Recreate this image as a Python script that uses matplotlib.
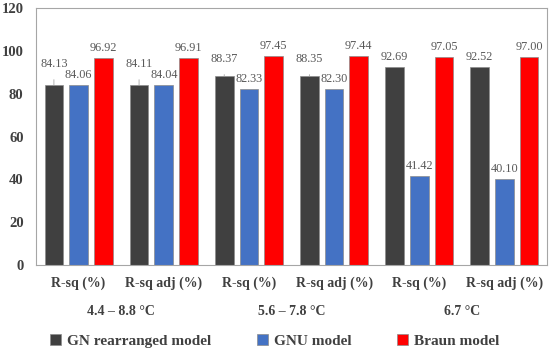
import numpy as np
import matplotlib
matplotlib.use("Agg")
import matplotlib.pyplot as plt

categories = ["R-sq (%)", "R-sq adj (%)", "R-sq (%)", "R-sq adj (%)", "R-sq (%)", "R-sq adj (%)"]
groups = ["4.4 \u2013 8.8 \u00b0C", "5.6 \u2013 7.8 \u00b0C", "6.7 \u00b0C"]
gn_rearranged = [84.13, 84.11, 88.37, 88.35, 92.69, 92.52]
gnu = [84.06, 84.04, 82.33, 82.30, 41.42, 40.10]
braun = [96.92, 96.91, 97.45, 97.44, 97.05, 97.00]
series_names = ["GN rearranged model", "GNU model", "Braun model"]

colors = ["#404040", "#4472C4", "#FF0000"]
serif = ["Liberation Serif", "DejaVu Serif"]

fig = plt.figure(figsize=(5.5, 3.53), dpi=100)
ax = fig.add_axes([0.0655, 0.249, 0.929, 0.728])

x = np.arange(len(categories))
width = 0.22
offsets = [-0.29, 0.0, 0.29]
series = [gn_rearranged, gnu, braun]

bars = []
for vals, off, col, name in zip(series, offsets, colors, series_names):
    b = ax.bar(x + off, vals, width, color=col, edgecolor="#8C8C8C", linewidth=0.5, label=name)
    bars.append(b)

# data labels; black bars in the first four columns sit higher with a leader line
for si, (vals, off) in enumerate(zip(series, offsets)):
    for i, v in enumerate(vals):
        lift = 10
        leader = False
        if si == 0 and i < 4:
            lift = 21 if i < 2 else 17
            leader = True
        ax.annotate(f"{v:.2f}", xy=(x[i] + off, v), xytext=(0, lift),
                    textcoords="offset pixels", ha="center", va="center",
                    fontsize=8.8, color="#595959", family=serif,
                    arrowprops=dict(arrowstyle="-", color="#A6A6A6", lw=0.6,
                                    shrinkA=5, shrinkB=0) if leader else None)

ax.set_xlim(-0.5, len(categories) - 0.5)
ax.set_ylim(0, 120)
ax.set_yticks(np.arange(0, 121, 20))
ax.set_xticks(x)
ax.set_xticklabels(categories, fontsize=10, fontweight="bold", family=serif, color="#404040")
ax.tick_params(axis="both", length=0)
ax.tick_params(axis="x", pad=8)
ax.tick_params(axis="y", pad=9)
for lab in ax.get_yticklabels():
    lab.set_fontsize(10.5)
    lab.set_fontweight("bold")
    lab.set_family(serif)
    lab.set_color("#404040")
for sp in ax.spines.values():
    sp.set_color("#A6A6A6")
    sp.set_linewidth(0.8)

for gi, g in enumerate(groups):
    ax.text(2 * gi + 0.5, -0.18, g, transform=ax.get_xaxis_transform(),
            ha="center", va="center", fontsize=10, fontweight="bold",
            family=serif, color="#404040")

leg = fig.legend(handles=bars, labels=series_names, loc="center", ncol=3,
                 bbox_to_anchor=(0.5, 0.034), frameon=False, handlelength=0.7,
                 handleheight=0.7, handletextpad=0.4, columnspacing=3.0,
                 prop={"family": serif, "weight": "bold", "size": 11})
for t in leg.get_texts():
    t.set_color("#404040")

fig.savefig("out.png", dpi=100)
